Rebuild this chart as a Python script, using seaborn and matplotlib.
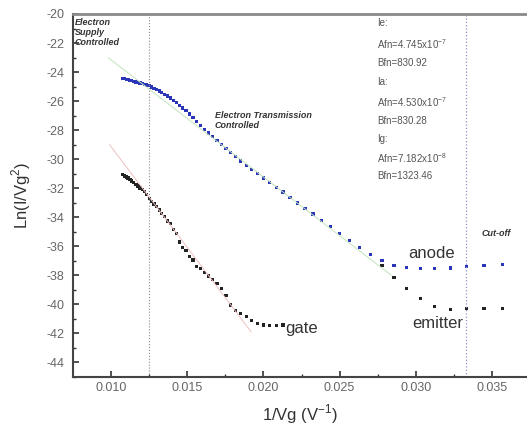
import numpy as np
import pandas as pd
import matplotlib.pyplot as plt
import seaborn as sns

plt.switch_backend('Agg')

# --------------------------
# Data
# --------------------------
# gate voltage steps (V), plotted as 1/Vg
vg = [93, 92, 91, 90, 89, 88, 87, 86, 85, 84, 83, 82, 81, 80, 79, 78, 77,
      76, 75, 74, 73, 72, 71, 70, 69, 68, 67, 66, 65, 64, 63, 62, 61, 60,
      59, 58, 57, 56, 55, 54, 53, 52, 51, 50, 49, 48, 47, 46, 45, 44, 43,
      42, 41, 40, 39, 38, 37, 36, 35, 34, 33, 32, 31, 30, 29, 28]

anode_ln = [-24.43, -24.46, -24.50, -24.53, -24.57, -24.60, -24.64, -24.68,
            -24.72, -24.76, -24.80, -24.85, -24.89, -24.94, -25.02, -25.11,
            -25.21, -25.31, -25.42, -25.53, -25.64, -25.79, -25.95, -26.11,
            -26.28, -26.47, -26.67, -26.89, -27.12, -27.40, -27.67, -27.95,
            -28.20, -28.44, -28.70, -28.97, -29.25, -29.53, -29.82, -30.12,
            -30.41, -30.70, -30.99, -31.30, -31.62, -31.93, -32.26, -32.65,
            -33.02, -33.40, -33.78, -34.20, -34.63, -35.11, -35.58, -36.07,
            -36.58, -36.98, -37.32, -37.48, -37.55, -37.55, -37.50, -37.40,
            -37.32, -37.25]

# emitter sits under the anode curve down to Vg = 37, then splits off
emitter_tail = [-37.30, -38.17, -38.93, -39.61, -40.14, -40.37, -40.30,
                -40.30, -40.30]
emitter_ln = anode_ln[:57] + emitter_tail

# gate measured from 93 V down to 47 V
gate_ln = [-31.05, -31.15, -31.22, -31.30, -31.38, -31.50, -31.62, -31.75,
           -31.85, -31.98, -32.10, -32.25, -32.45, -32.70, -32.92, -33.08,
           -33.25, -33.50, -33.72, -33.95, -34.25, -34.45, -34.85, -35.10,
           -35.70, -36.10, -36.30, -36.70, -36.95, -37.40, -37.55, -37.80,
           -38.05, -38.30, -38.55, -38.90, -39.40, -40.05, -40.40, -40.65,
           -40.85, -41.10, -41.30, -41.42, -41.45, -41.45, -41.42]

# Fowler-Nordheim fit lines (end points)
fit_anode_x = [0.0098, 0.0284]
fit_anode_y = [-23.0, -38.0]
fit_gate_x = [0.0099, 0.0192]
fit_gate_y = [-29.0, -41.9]

# region boundaries
supply_x = 0.0125
cutoff_x = 0.0333

fit_text = ['Ie:', 'Afn=4.745x10$^{-7}$', 'Bfn=830.92',
            'Ia:', 'Afn=4.530x10$^{-7}$', 'Bfn=830.28',
            'Ig:', 'Afn=7.182x10$^{-8}$', 'Bfn=1323.46']
fit_text_y = [-20.65, -22.1, -23.35, -24.65, -26.1, -27.35, -28.6, -29.9, -31.15]

# --------------------------
# Build table
# --------------------------
inv_vg = 1.0 / np.array(vg, dtype=float)
df = pd.concat([
    pd.DataFrame({'inv_vg': inv_vg, 'ln': emitter_ln, 'series': 'emitter'}),
    pd.DataFrame({'inv_vg': inv_vg[:len(gate_ln)], 'ln': gate_ln, 'series': 'gate'}),
    pd.DataFrame({'inv_vg': inv_vg, 'ln': anode_ln, 'series': 'anode'}),
], ignore_index=True)

# --------------------------
# Plot
# --------------------------
sns.set_style('ticks')
plt.rcParams['font.family'] = ['Liberation Sans', 'DejaVu Sans']
plt.rcParams['mathtext.fontset'] = 'custom'
plt.rcParams['mathtext.rm'] = 'Liberation Sans'
plt.rcParams['axes.unicode_minus'] = False

fig = plt.figure(figsize=(5.27, 4.29), dpi=100)
ax = fig.add_axes([73 / 527, 52 / 429, 1 - 73 / 527, 363 / 429])

ax.axvline(supply_x, color='#8a8a8a', lw=0.8, ls=':')
ax.axvline(cutoff_x, color='#9090c8', lw=0.9, ls=':')

sns.lineplot(x=fit_anode_x, y=fit_anode_y, ax=ax, color='#c2e4bc', lw=0.7)
sns.lineplot(x=fit_gate_x, y=fit_gate_y, ax=ax, color='#ecc0c0', lw=0.7)

sns.scatterplot(data=df, x='inv_vg', y='ln', hue='series',
                palette={'emitter': '#222222', 'gate': '#222222', 'anode': '#2b35b8'},
                marker='s', s=5.5, linewidth=0, legend=False, ax=ax)

ax.set_xlim(0.0075, 0.0373)
ax.set_ylim(-45, -20)
ax.set_xticks([0.010, 0.015, 0.020, 0.025, 0.030, 0.035])
ax.set_xticklabels(['0.010', '0.015', '0.020', '0.025', '0.030', '0.035'])
ax.set_xticks(np.arange(0.0125, 0.037, 0.005), minor=True)
ax.set_yticks(np.arange(-44, -19, 2))
ax.set_yticks(np.arange(-45, -20, 2), minor=True)
ax.tick_params(which='major', direction='in', length=4, width=1.2,
               labelsize=9, labelcolor='#666666', color='#333333')
ax.tick_params(which='minor', direction='in', length=2.5, width=1.0, color='#333333')
ax.tick_params(axis='y', which='major', pad=6)

ax.set_xlabel('1/Vg (V$^{-1}$)', fontsize=12, color='#333333', labelpad=6)
ax.set_ylabel('Ln(I/Vg$^{2}$)', fontsize=12, color='#333333', labelpad=10)

ax.spines['right'].set_visible(False)
ax.spines['top'].set_linewidth(2.0)
ax.spines['top'].set_color('#8a8a8a')
ax.spines['left'].set_linewidth(1.5)
ax.spines['left'].set_color('#444444')
ax.spines['bottom'].set_linewidth(1.5)
ax.spines['bottom'].set_color('#444444')

# region annotations
ax.text(0.0076, -20.25, 'Electron\nSupply\nControlled', fontsize=6.5,
        fontweight='bold', style='italic', va='top', ha='left',
        linespacing=1.2, color='#333333')
ax.text(0.0168, -26.7, 'Electron Transmission\nControlled', fontsize=6.5,
        fontweight='bold', style='italic', va='top', ha='left',
        linespacing=1.1, color='#333333')
ax.text(0.0343, -35.1, 'Cut-off', fontsize=6.5, fontweight='bold',
        style='italic', va='center', ha='left', color='#333333')

for t, y in zip(fit_text, fit_text_y):
    ax.text(0.02745, y, t, fontsize=7, va='center', ha='left', color='#555555')

ax.text(0.02949, -36.5, 'anode', fontsize=12, va='center', ha='left', color='#333333')
ax.text(0.02975, -41.3, 'emitter', fontsize=12, va='center', ha='left', color='#333333')
ax.text(0.02142, -41.65, 'gate', fontsize=12, va='center', ha='left', color='#333333')

plt.savefig('out.png', dpi=100)
plt.close()
